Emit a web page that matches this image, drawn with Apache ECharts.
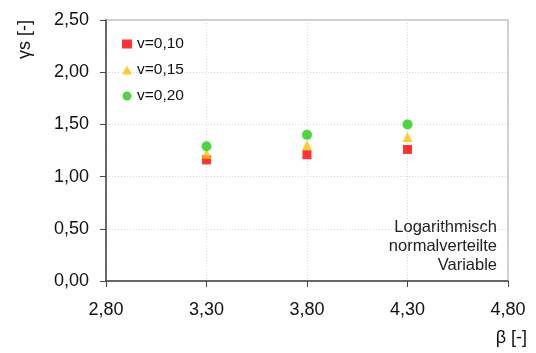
<!DOCTYPE html>
<html><head><meta charset="utf-8">
<script src="https://cdn.jsdelivr.net/npm/echarts@6/dist/echarts.min.js"></script>
<style>html,body{margin:0;padding:0;background:#fff}#c{width:536px;height:353px}</style>
</head><body><div id="c"></div>
<script>
const betaValues = [3.30, 3.80, 4.30];
const seriesNames = ['v=0,10', 'v=0,15', 'v=0,20'];
const gamma010 = [1.16, 1.21, 1.26];
const gamma015 = [1.22, 1.30, 1.38];
const gamma020 = [1.29, 1.40, 1.50];
const annotationLines = ['Logarithmisch', 'normalverteilte', 'Variable'];

const fmt = v => v.toFixed(2).replace('.', ',');
const pairs = arr => betaValues.map((b, i) => [b, arr[i]]);
const font = 'Liberation Sans, Arial, sans-serif';

const chart = echarts.init(document.getElementById('c'));
chart.setOption({
  animation: false,
  grid: { left: 106, right: 28, top: 20, bottom: 72, show: true, borderColor: '#9aa0a0', borderWidth: 1 },
  legend: {
    orient: 'vertical', left: 117, top: 31, itemGap: 10, itemWidth: 10, itemHeight: 9,
    textStyle: { fontFamily: font, fontSize: 15.5, color: '#111' },
    data: [
      { name: seriesNames[0], icon: 'rect' },
      { name: seriesNames[1], icon: 'triangle' },
      { name: seriesNames[2], icon: 'circle' }
    ]
  },
  xAxis: {
    type: 'value', min: 2.8, max: 4.8, interval: 0.5,
    name: 'β [-]', nameLocation: 'end', nameGap: 19,
    nameTextStyle: { fontFamily: font, fontSize: 18, color: '#111', align: 'right', verticalAlign: 'top', padding: [48, 0, 0, 0] },
    axisLine: { show: true, lineStyle: { color: '#404848', width: 1.5 } },
    axisTick: { show: true, length: 6, lineStyle: { color: '#404848' } },
    axisLabel: { formatter: fmt, fontFamily: font, fontSize: 18, color: '#111', margin: 20 },
    splitLine: { show: true, lineStyle: { color: '#d8d8d8', type: [1, 2] } }
  },
  yAxis: {
    type: 'value', min: 0, max: 2.5, interval: 0.5,
    name: 'γs [-]', nameLocation: 'end', nameRotate: 90, nameGap: 0,
    nameTextStyle: { fontFamily: font, fontSize: 18, color: '#111', align: 'right', verticalAlign: 'bottom', padding: [0, 0, 72, 0] },
    axisLine: { show: true, lineStyle: { color: '#404848', width: 1.5 } },
    axisTick: { show: true, length: 6, lineStyle: { color: '#404848' } },
    axisLabel: { formatter: fmt, fontFamily: font, fontSize: 18, color: '#111', margin: 17 },
    splitLine: { show: true, lineStyle: { color: '#d8d8d8', type: [1, 2] } }
  },
  graphic: [{
    type: 'text', right: 39, top: 218,
    style: { text: annotationLines.join('\n'), fontFamily: font, fontSize: 16.5, fill: '#222', align: 'right', textAlign: 'right', lineHeight: 19 }
  }],
  series: [
    { name: seriesNames[0], type: 'scatter', symbol: 'rect', symbolSize: 9, itemStyle: { color: '#ff0000' }, data: pairs(gamma010) },
    { name: seriesNames[1], type: 'scatter', symbol: 'triangle', symbolSize: 10, itemStyle: { color: '#ffc000' }, data: pairs(gamma015) },
    { name: seriesNames[2], type: 'scatter', symbol: 'circle', symbolSize: 10, itemStyle: { color: '#22cc11' }, data: pairs(gamma020) }
  ]
});
</script></body></html>
